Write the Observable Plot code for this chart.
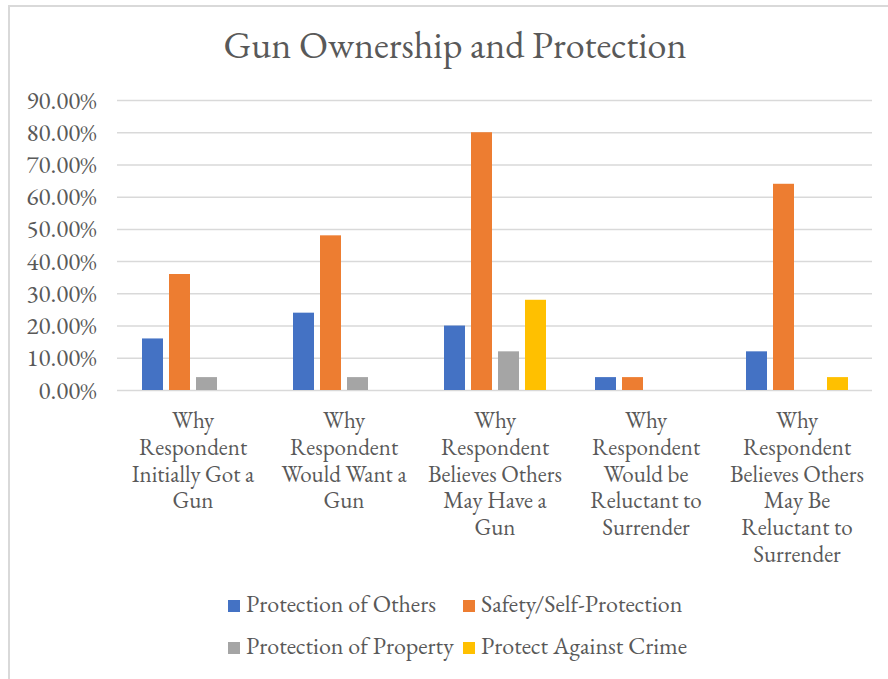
<!DOCTYPE html>
<html><head><meta charset="utf-8">
<script src="https://cdn.jsdelivr.net/npm/d3@7"></script>
<script src="https://cdn.jsdelivr.net/npm/@observablehq/plot@0.6"></script>
<style>
body{margin:0;background:#fff;color:#595959;}
#frame{position:absolute;z-index:10;left:8px;top:5px;width:880px;height:674px;border-top:2px solid #d9d9d9;border-left:2px solid #d9d9d9;box-sizing:border-box;pointer-events:none;}
#chart{position:relative;width:888px;}
#title{height:85px;box-sizing:border-box;padding-top:26px;padding-left:22px;text-align:center;font-size:38px;line-height:38px;white-space:nowrap;}
#legend{padding-top:3px;padding-left:228px;display:grid;grid-template-columns:235px auto;font-size:24px;line-height:42px;white-space:nowrap;}
.sw{display:inline-block;width:12px;height:12px;margin-right:6px;}
</style></head><body>
<div id="frame"></div>
<div id="chart">
  <div id="title">Gun Ownership and Protection</div>
  <div id="plot"></div>
  <div id="legend"></div>
</div>
<script>
const categories = [
  "Why\nRespondent\nInitially Got a\nGun",
  "Why\nRespondent\nWould Want a\nGun",
  "Why\nRespondent\nBelieves Others\nMay Have a\nGun",
  "Why\nRespondent\nWould be\nReluctant to\nSurrender",
  "Why\nRespondent\nBelieves Others\nMay Be\nReluctant to\nSurrender"
];
const series = ["Protection of Others", "Safety/Self-Protection", "Protection of Property", "Protect Against Crime"];
const protectionOfOthers   = [0.16, 0.24, 0.20, 0.04, 0.12];
const safetySelfProtection = [0.36, 0.48, 0.80, 0.04, 0.64];
const protectionOfProperty = [0.04, 0.04, 0.12, 0.00, 0.00];
const protectAgainstCrime  = [0.00, 0.00, 0.28, 0.00, 0.04];
const colors = ["#4472C4", "#ED7D31", "#A5A5A5", "#FFC000"];
const yTicks = [0, 0.1, 0.2, 0.3, 0.4, 0.5, 0.6, 0.7, 0.8, 0.9];

const seriesValues = [protectionOfOthers, safetySelfProtection, protectionOfProperty, protectAgainstCrime];
const rows = [];
categories.forEach((c, i) => series.forEach((s, j) => rows.push({category: c, series: s, value: seriesValues[j][i]})));

const FONT = '"EB Garamond", "Liberation Serif"';
const chart = Plot.plot({
  width: 888, height: 495,
  marginLeft: 116, marginRight: 15, marginTop: 15, marginBottom: 190,
  style: {fontSize: "24px", color: "#595959", background: "white", overflow: "visible"},
  fx: {domain: categories, padding: 0, label: null},
  x: {domain: series, paddingInner: 0.23, paddingOuter: 0.858, axis: null},
  y: {domain: [0, 0.9], label: null},
  color: {domain: series, range: colors},
  marks: [
    Plot.gridY({ticks: yTicks, stroke: "#d9d9d9", strokeOpacity: 1, strokeWidth: 1.5}),
    Plot.axisY({ticks: yTicks, tickFormat: d3.format(".2%"), tickSize: 0, tickPadding: 21, fontSize: 25, fill: "#595959", label: null}),
    Plot.axisFx({anchor: "bottom", tickSize: 0, tickPadding: 19, lineHeight: 1.16, fontSize: 23, fill: "#595959", label: null}),
    Plot.barY(rows.filter(d => d.value > 0), {fx: "category", x: "series", y: "value", fill: "series"})
  ]
});
document.getElementById("plot").appendChild(chart);

const legend = document.getElementById("legend");
series.forEach((s, j) => {
  const item = document.createElement("div");
  const sw = document.createElement("span");
  sw.className = "sw";
  sw.style.background = colors[j];
  item.appendChild(sw);
  item.appendChild(document.createTextNode(s));
  legend.appendChild(item);
});

chart.style.fontFamily = FONT;
chart.querySelectorAll("g, text, tspan").forEach(e => { e.style.fontFamily = FONT; });
document.getElementById("title").style.fontFamily = FONT;
legend.style.fontFamily = FONT;
</script>
</body></html>
